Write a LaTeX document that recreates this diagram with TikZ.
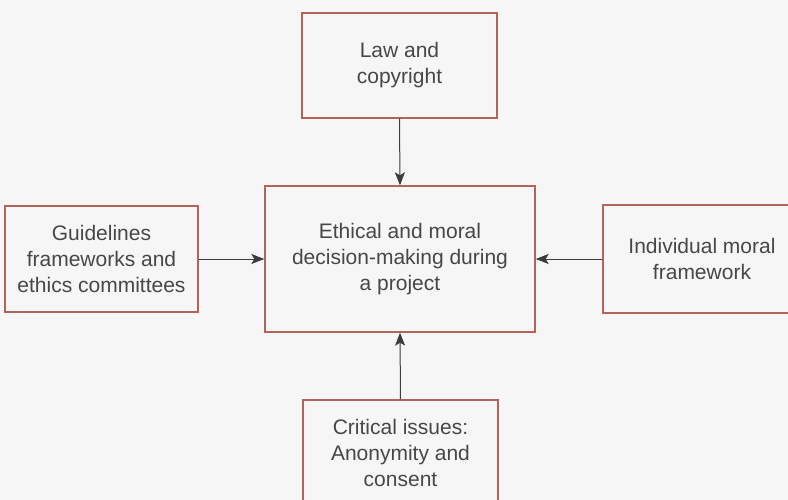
\documentclass[tikz,border=0pt]{standalone}
\usepackage{fontspec}
\setmainfont{Liberation Sans}
\usetikzlibrary{arrows.meta}
\definecolor{pagebg}{HTML}{F6F6F6}
\definecolor{boxedge}{HTML}{B5625A}
\definecolor{inkgray}{HTML}{474747}
\definecolor{arrowgray}{HTML}{3C3C3C}
\begin{document}
\begin{tikzpicture}[x=1pt,y=-1pt,
  box/.style={draw=boxedge, line width=1.4pt, rectangle, inner sep=0pt,
    align=center, text=inkgray,
    font=\fontsize{21}{26}\selectfont},
  link/.style={draw=arrowgray, line width=1pt,
    -{Stealth[length=13pt,width=10pt,inset=3pt]}}]
  % page area
  \useasboundingbox (0,0) rectangle (788,500);
  \clip (0,0) rectangle (788,500);
  \fill[pagebg] (0,0) rectangle (788,500);

  % boxes
  \node[box, minimum width=195pt, minimum height=105pt] (law) at (399.5,65.5)
    {Law and\\copyright};
  \node[box, minimum width=270pt, minimum height=146pt] (ethics) at (400,259)
    {Ethical and moral\\decision-making during\\a project};
  \node[box, minimum width=193pt, minimum height=106pt] (guide) at (101.5,259)
    {Guidelines\\frameworks and\\ethics committees};
  \node[box, minimum width=198pt, minimum height=108pt] (indiv) at (702,259)
    {Individual moral\\framework};
  \node[box, minimum width=195pt, minimum height=106pt] (crit) at (400.5,453)
    {Critical issues:\\Anonymity and\\consent};

  % influences on the decision-making
  \draw[link] (law.south) -- (ethics.north);
  \draw[link] (guide.east) -- (ethics.west);
  \draw[link] (indiv.west) -- (ethics.east);
  \draw[link] (crit.north) -- (ethics.south);
\end{tikzpicture}
\end{document}
